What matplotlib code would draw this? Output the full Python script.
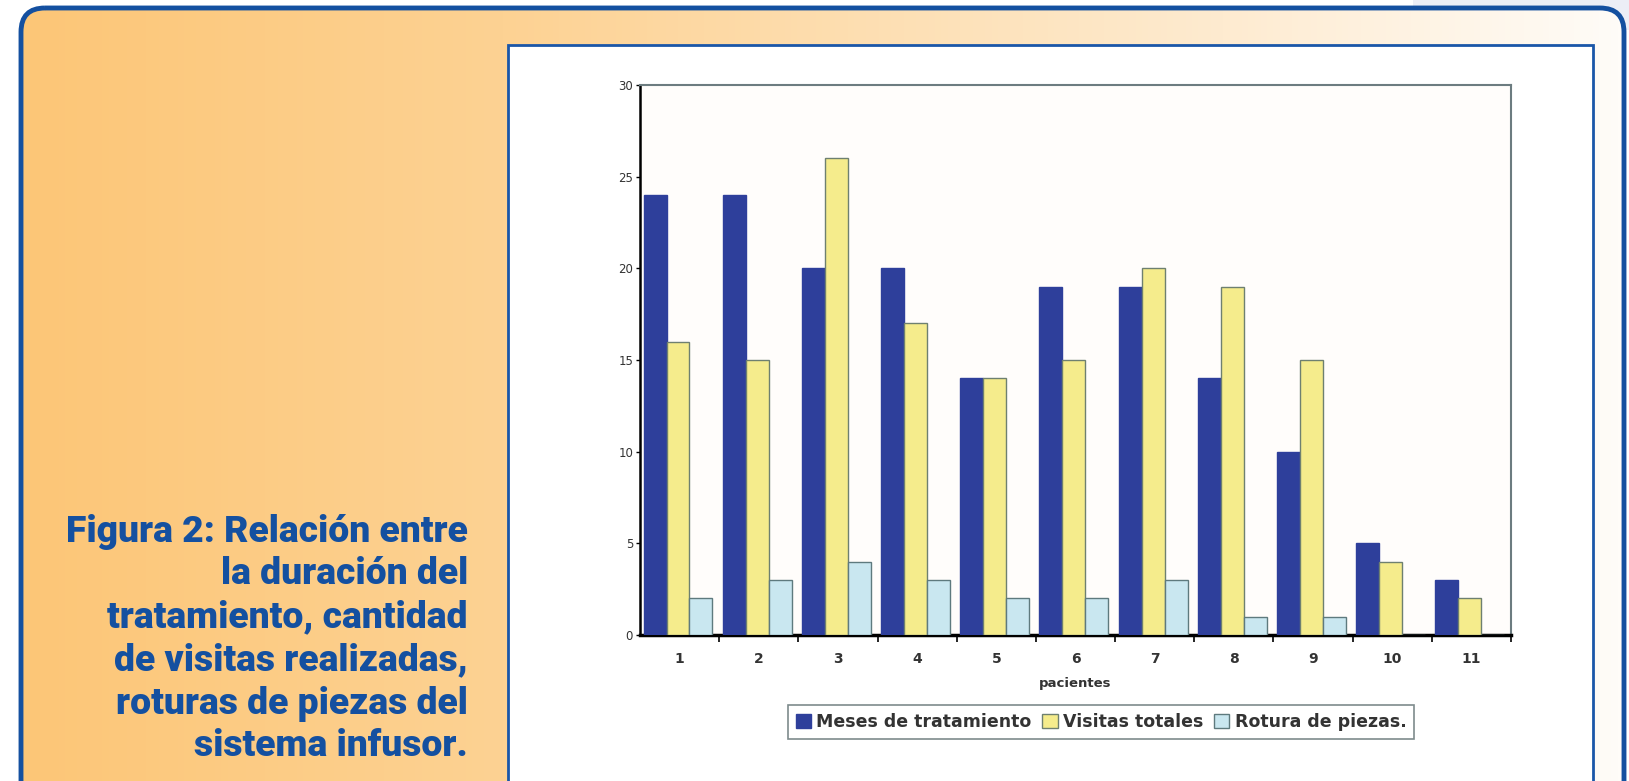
import numpy as np
import matplotlib
matplotlib.use("Agg")
import matplotlib.pyplot as plt
from matplotlib.patches import FancyBboxPatch, Rectangle
from matplotlib.colors import LinearSegmentedColormap

pacientes = ["1", "2", "3", "4", "5", "6", "7", "8", "9", "10", "11"]
meses = [24, 24, 20, 20, 14, 19, 19, 14, 10, 5, 3]
visitas = [16, 15, 26, 17, 14, 15, 20, 19, 15, 4, 2]
rotura = [2, 3, 4, 3, 2, 2, 3, 1, 1, 0, 0]
series_names = ["Meses de tratamiento", "Visitas totales", "Rotura de piezas."]
y_ticks = [0, 5, 10, 15, 20, 25, 30]
caption = ("Figura 2: Relación entre\nla duración del\ntratamiento, cantidad\n"
           "de visitas realizadas,\nroturas de piezas del\nsistema infusor.")

W, H = 1629, 781
fig = plt.figure(figsize=(W / 100, H / 100), dpi=100)
fig.patch.set_facecolor("white")

# background layer in pixel coordinates
bg = fig.add_axes([0, 0, 1, 1])
bg.set_xlim(0, W)
bg.set_ylim(H, 0)
bg.axis("off")
bg.add_patch(Rectangle((1413, 0), W - 1413, 30, facecolor="#ECEEF6", edgecolor="none", zorder=0))

panel = FancyBboxPatch((21, 8), 1603, 900, boxstyle="round,pad=0,rounding_size=24",
                       facecolor="none", edgecolor="#1450A0", linewidth=3.5, zorder=3)
bg.add_patch(panel)
grad = np.linspace(0, 1, 512)[None, :]
cmap = LinearSegmentedColormap.from_list("g", [(0, "#FCC677"), (0.3, "#FDD293"),
                                              (0.75, "#FEEBD0"), (1, "#FFFCF8")])
im = bg.imshow(grad, cmap=cmap, aspect="auto", extent=(21, 1624, 908, 8), zorder=1)
clip = FancyBboxPatch((21, 8), 1603, 900, boxstyle="round,pad=0,rounding_size=24",
                      facecolor="none", edgecolor="none", transform=bg.transData)
bg.add_patch(clip)
im.set_clip_path(clip)

bg.add_patch(Rectangle((508, 45), 1593 - 508, 900, facecolor="white",
                       edgecolor="#1A56A8", linewidth=2, zorder=4))

bg.text(468, 639, caption, ha="right", va="center", multialignment="right",
        fontsize=26.8, fontweight="black", color="#1450A0",
        family=["Roboto", "DejaVu Sans"],
        linespacing=1.25, zorder=5)

# chart
ax = fig.add_axes([640 / W, 1 - 635 / H, (1511 - 640) / W, (635 - 85) / H])
ax.set_facecolor("#FFFDFB")
x = np.arange(len(pacientes))
bw = 0.29
colors = ["#2E3F9B", "#F5EC8C", "#C9E7F0"]
edges = ["#2E3F9B", "#6E8070", "#5E7A7E"]
for i, (vals, c, e, name) in enumerate(zip([meses, visitas, rotura], colors, edges, series_names)):
    ax.bar(x + (i - 1) * bw - 0.02, vals, width=bw, color=c, edgecolor=e,
           linewidth=1.0, label=name, zorder=3)

ax.set_xlim(-0.5, len(pacientes) - 0.5)
ax.set_ylim(0, 30)
ax.set_yticks(y_ticks)
ax.set_yticklabels([str(v) for v in y_ticks], fontsize=8.5, color="#333333")
ax.set_xticks(x)
ax.set_xticklabels(pacientes, fontsize=10, fontweight="bold", color="#333333")
ax.set_xticks(np.arange(len(pacientes)) + 0.5, minor=True)
ax.tick_params(axis="x", which="major", length=0, pad=12)
ax.tick_params(axis="x", which="minor", length=5, width=1.2, direction="out", color="black")
ax.tick_params(axis="y", length=3, width=1, direction="out", pad=2)
ax.set_xlabel("pacientes", fontsize=9.5, fontweight="bold", color="#333333", labelpad=8)

ax.spines["left"].set_color("black")
ax.spines["left"].set_linewidth(1.8)
ax.spines["bottom"].set_color("black")
ax.spines["bottom"].set_linewidth(2.5)
ax.spines["top"].set_color("#6C7C80")
ax.spines["top"].set_linewidth(1.5)
ax.spines["right"].set_color("#6C7C80")
ax.spines["right"].set_linewidth(1.5)

leg = fig.legend(loc="center", bbox_to_anchor=(1101 / W, 1 - 722 / H), ncol=3,
                 frameon=True, fancybox=False,
                 prop={"weight": "bold", "size": 12.5},
                 handlelength=0.9, handleheight=0.9, handletextpad=0.3,
                 columnspacing=0.6, borderpad=0.45, edgecolor="#5E6E70")
leg.get_frame().set_linewidth(1.2)
for t in leg.get_texts():
    t.set_color("#333333")

fig.savefig("out.png", dpi=100)
